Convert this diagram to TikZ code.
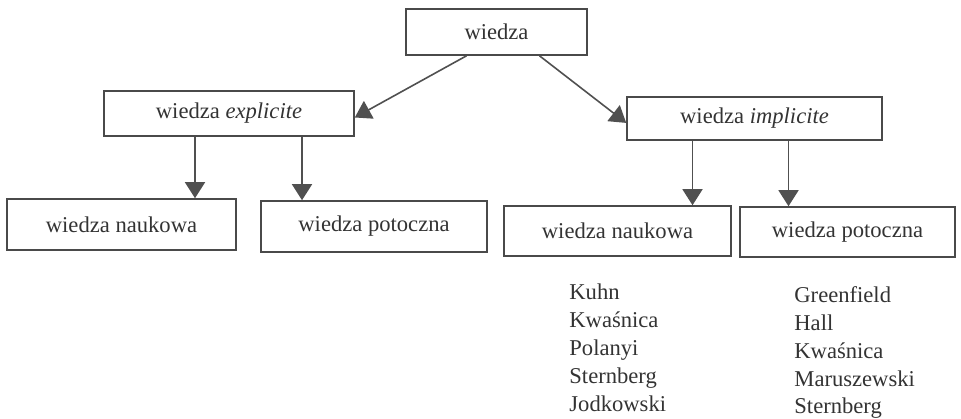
\documentclass[tikz,border=0pt]{standalone}
\usepackage{fontspec}
\setmainfont{Liberation Serif}
\usetikzlibrary{arrows.meta}
\definecolor{ink}{HTML}{333333}
\definecolor{edge}{HTML}{4A4A4A}
\definecolor{arrowc}{HTML}{505050}
\begin{document}
\begin{tikzpicture}[x=0.5pt,y=-0.5pt,
  box/.style={draw=edge,line width=0.8pt,inner sep=0pt,text=ink,
    font=\fontsize{11.3}{14}\selectfont},
  arr/.style={draw=arrowc,line width=0.8pt,
    -{Triangle[length=8pt,width=10pt,fill=arrowc]}},
  person/.style={anchor=base west,inner sep=0pt,text=ink,
    font=\fontsize{11.3}{14}\selectfont}]
\useasboundingbox (0,0) rectangle (961,418);
\node[box,minimum width=90.5pt,minimum height=23pt] (w) at (496.5,32) {wiedza};
\node[box,minimum width=125pt,minimum height=22.5pt] (e) at (229,113.5) {wiedza \textit{explicite}};
\node[box,minimum width=127.5pt,minimum height=21.5pt] (i) at (754.5,118.5) {wiedza \textit{implicite}};
\node[box,minimum width=114.5pt,minimum height=25.5pt] (nL) at (121.5,224.5) {wiedza naukowa};
\node[box,minimum width=113pt,minimum height=25.5pt] (pL) at (374,226.5) {wiedza potoczna};
\node[box,minimum width=113.5pt,minimum height=25pt] (nR) at (617.5,231) {wiedza naukowa};
\node[box,minimum width=107.5pt,minimum height=25pt] (pR) at (847.5,232) {wiedza potoczna};
% connectors
\draw[arr] ([xshift=-15pt]w.south) -- ([yshift=-2pt]e.east);
\draw[arr] ([xshift=21.5pt]w.south) -- ([yshift=-2.2pt]i.west);
\draw[arr] ([xshift=-17pt]e.south) -- ([xshift=-17pt]e.south |- nL.north);
\draw[arr] ([xshift=36.5pt]e.south) -- ([xshift=36.5pt]e.south |- pL.north);
\draw[arr] ([xshift=-31pt]i.south) -- ([xshift=-31pt]i.south |- nR.north);
\draw[arr] ([xshift=17pt]i.south) -- ([xshift=17pt]i.south |- pR.north);
% names
\node[person] (a1) at (569,299) {Kuhn};
\node[person] (a2) at (569,327) {Kwaśnica};
\node[person] (a3) at (569,355) {Polanyi};
\node[person] (a4) at (569,383) {Sternberg};
\node[person] (a5) at (569,411) {Jodkowski};
\node[person] (b1) at (794,302) {Greenfield};
\node[person] (b2) at (794,330) {Hall};
\node[person] (b3) at (794,358) {Kwaśnica};
\node[person] (b4) at (794,386) {Maruszewski};
\node[person] (b5) at (794,413) {Sternberg};
\end{tikzpicture}
\end{document}
